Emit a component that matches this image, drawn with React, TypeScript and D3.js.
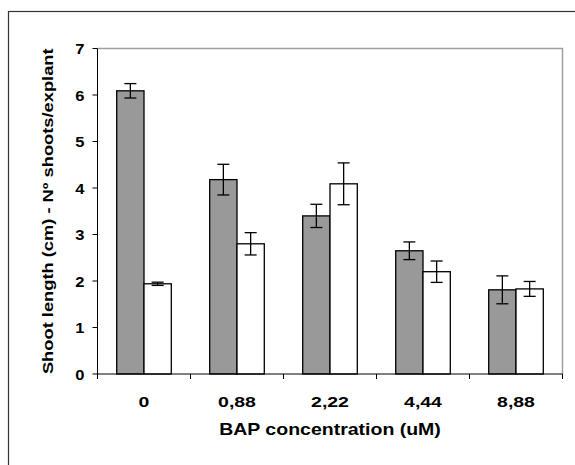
import React from 'react';
import * as d3 from 'd3';

// BAP concentration (uM) groups
const categories = ['0', '0,88', '2,22', '4,44', '8,88'];
const seriesKeys = ['shootLength', 'shootsPerExplant'];

// series values and their error bars
const shootLength = [6.09, 4.18, 3.40, 2.65, 1.81];
const shootLengthErr = [0.155, 0.33, 0.25, 0.19, 0.30];
const shootsPerExplant = [1.94, 2.80, 4.09, 2.20, 1.83];
const shootsPerExplantErr = [0.035, 0.24, 0.45, 0.23, 0.16];

const yTicks = [0, 1, 2, 3, 4, 5, 6, 7];

const W = 575;
const H = 465;
const left = 97.5;
const right = 562.5;
const top = 48.5;
const bottom = 374;

const font = '"Liberation Sans", Arial, sans-serif';

export default function App() {
  const x0 = d3.scaleBand<string>()
    .domain(categories)
    .range([left, right])
    .paddingInner(0.413)
    .paddingOuter(0.2065);
  const x1 = d3.scaleBand<string>()
    .domain(seriesKeys)
    .range([0, x0.bandwidth()]);
  const y = d3.scaleLinear().domain([0, 7]).range([bottom, top]);

  const fills = ['#999999', '#ffffff'];
  const values = [shootLength, shootsPerExplant];
  const errors = [shootLengthErr, shootsPerExplantErr];
  const step = x0.step();
  const capW = 6;

  return (
    <svg width={W} height={H} style={{ position: 'fixed', left: 0, top: 0, background: '#fff' }}>
      {/* outer frame */}
      <rect x={8.5} y={11.5} width={700} height={700} fill="none" stroke="#333" strokeWidth={1.2} />

      {/* plot area border, top and right */}
      <path d={`M${left},${top}H${right}V${bottom}`} fill="none" stroke="#a0a0a0" strokeWidth={1.5} />

      {/* bars */}
      {categories.map((c, i) => (
        <g key={c} transform={`translate(${x0(c)},0)`}>
          {seriesKeys.map((k, s) => {
            const v = values[s][i];
            const e = errors[s][i];
            const bx = x1(k) as number;
            const bw = x1.bandwidth();
            const cx = bx + bw / 2;
            return (
              <g key={k}>
                <rect x={bx} y={y(v)} width={bw} height={y(0) - y(v)}
                  fill={fills[s]} stroke="#000" strokeWidth={1.3} />
                <line x1={cx} x2={cx} y1={y(v + e)} y2={y(v - e)} stroke="#000" strokeWidth={1.3} />
                <line x1={cx - capW} x2={cx + capW} y1={y(v + e)} y2={y(v + e)} stroke="#000" strokeWidth={1.3} />
                <line x1={cx - capW} x2={cx + capW} y1={y(v - e)} y2={y(v - e)} stroke="#000" strokeWidth={1.3} />
              </g>
            );
          })}
        </g>
      ))}

      {/* y axis */}
      <line x1={left} x2={left} y1={top} y2={bottom} stroke="#000" strokeWidth={1} />
      {yTicks.map(t => (
        <g key={t}>
          <line x1={left - 5} x2={left} y1={y(t)} y2={y(t)} stroke="#000" />
          <text transform={`translate(${left - 13},${y(t) + 5.5}) scale(1.1,1)`} textAnchor="end"
            fontFamily={font} fontWeight="bold" fontSize={15}>{t}</text>
        </g>
      ))}

      {/* x axis */}
      <line x1={left} x2={right} y1={bottom} y2={bottom} stroke="#000" strokeWidth={1} />
      {categories.map((c, i) => (
        <line key={'t' + c} x1={left + step * i} x2={left + step * i} y1={bottom} y2={bottom + 5} stroke="#000" />
      ))}
      <line x1={right} x2={right} y1={bottom} y2={bottom + 5} stroke="#000" />
      {categories.map(c => (
        <text key={'l' + c} transform={`translate(${(x0(c) as number) + x0.bandwidth() / 2},407) scale(1.3,1)`}
          textAnchor="middle" fontFamily={font} fontWeight="bold" fontSize={15}>{c}</text>
      ))}

      <text transform={`translate(${(left + right) / 2},435) scale(1.22,1)`} textAnchor="middle"
        fontFamily={font} fontWeight="bold" fontSize={16}>BAP concentration (uM)</text>

      <text transform={`translate(53,${(top + bottom) / 2}) rotate(-90) scale(1.22,1)`} textAnchor="middle"
        fontFamily={font} fontWeight="bold" fontSize={15}>Shoot length (cm) - Nº shoots/explant</text>
    </svg>
  );
}
